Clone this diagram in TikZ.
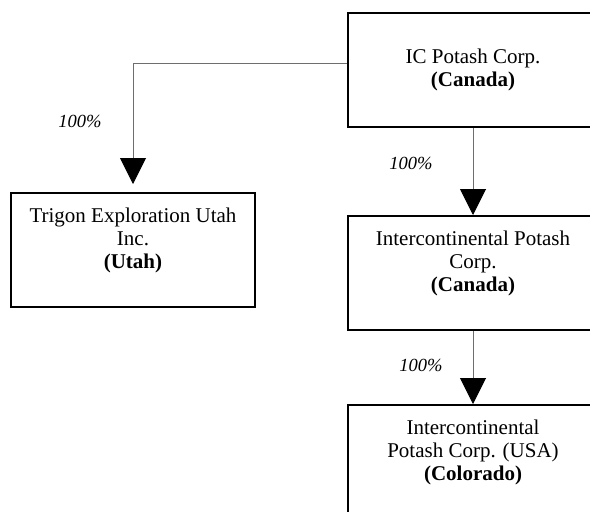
\documentclass[tikz,border=0pt]{standalone}
\usepackage{fontspec}
\setmainfont{Liberation Serif}
\usetikzlibrary{arrows.meta}
\definecolor{linegray}{RGB}{110,110,110}

\begin{document}
\begin{tikzpicture}[x=1pt,y=-1pt]
        \useasboundingbox (0,0) rectangle (590,512);
        \clip (0,0) rectangle (590,512);
        \begin{scope}[every node/.style={rectangle,draw,line width=2pt,align=center,minimum height=114pt,inner sep=0pt,font=\fontsize{21}{23}\selectfont}]
          \node[minimum width=250pt] (1) at (473,70) {IC Potash Corp.\\\textbf{(Canada)}};
          \node[minimum width=244pt] (2) at (133,250) {Trigon Exploration Utah\\Inc.\\\textbf{(Utah)}\\\mbox{}};
          \node[minimum width=250pt] (3) at (473,273) {Intercontinental Potash\\Corp.\\\textbf{(Canada)}\\\mbox{}};
          \node[minimum width=250pt] (4) at (473,462) {Intercontinental\\Potash Corp. (USA)\\\textbf{(Colorado)}\\\mbox{}};
        \end{scope}
        \begin{scope}[every node/.style={font=\fontsize{18.5}{22}\selectfont\itshape}]
          \node (5) at (80,121) {100\%};
          \node (6) at (411,163) {100\%};
          \node (7) at (421,365) {100\%};
        \end{scope}
        \begin{scope}[every edge/.style={draw=linegray,line width=1pt,-{Triangle[width=26pt,length=26pt,black]}}]
          \path ([yshift=7pt]1.west) edge[to path={-| (\tikztotarget)},shorten >=8pt] (2.north);
          \path (1) edge (3);
          \path (3) edge (4);
        \end{scope}
  		\end{tikzpicture}
\end{document}
